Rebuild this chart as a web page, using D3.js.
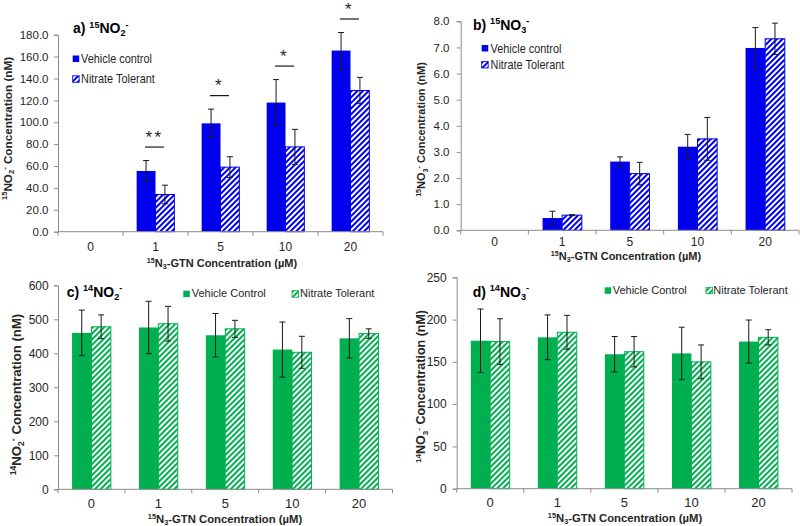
<!DOCTYPE html>
<html>
<head>
<meta charset="utf-8">
<script src="https://cdn.jsdelivr.net/npm/d3@7"></script>
<style>
  body { margin: 0; background: #fff; }
  svg { display: block; font-family: "Liberation Sans", Arial, sans-serif; }
  text { white-space: pre; }
</style>
</head>
<body>
<svg id="chart" width="800" height="526"></svg>
<script>
// DATA ///////////////////////////////////////////////////////////////////////
const categories = ["0", "1", "5", "10", "20"];

// a) 15NO2- (nM)
const no2_15_vehicle     = [0, 55.5, 99, 118, 165.5];
const no2_15_vehicleErr  = [0, 9.5, 13, 21, 16.5];
const no2_15_tolerant    = [0, 34, 59, 77.5, 129];
const no2_15_tolerantErr = [0, 8.5, 9.5, 16, 12];
const no2_15_sig         = ["", "**", "*", "*", "*"];

// b) 15NO3- (nM)
const no3_15_vehicle     = [0, 0.47, 2.63, 3.2, 6.98];
const no3_15_vehicleErr  = [0, 0.26, 0.18, 0.47, 0.78];
const no3_15_tolerant    = [0, 0.58, 2.17, 3.5, 7.33];
const no3_15_tolerantErr = [0, 0.02, 0.43, 0.82, 0.6];

// c) 14NO2- (nM)
const no2_14_vehicle     = [460, 476, 453, 411, 444];
const no2_14_vehicleErr  = [67, 77, 64, 81, 58];
const no2_14_tolerant    = [478, 487, 472, 403, 458];
const no2_14_tolerantErr = [35, 51, 25, 47, 14];

// d) 14NO3- (nM)
const no3_14_vehicle     = [175, 179, 159, 160, 174];
const no3_14_vehicleErr  = [37.5, 26.5, 21, 31, 25.5];
const no3_14_tolerant    = [174, 185, 162, 150, 179];
const no3_14_tolerantErr = [27, 20, 18, 20, 9];

// STYLE //////////////////////////////////////////////////////////////////////
const blue = "#0000ee";
const green = "#00b050";
const axisColor = "#8c8c8c";
const textColor = "#262626";

const svg = d3.select("#chart");
const defs = svg.append("defs");

// diagonal "/" hatch for the nitrate tolerant bars
function hatch(id, col) {
  const p = defs.append("pattern")
    .attr("id", id)
    .attr("patternUnits", "userSpaceOnUse")
    .attr("width", 4).attr("height", 4)
    .attr("patternTransform", "rotate(45)");
  p.append("rect").attr("width", 4).attr("height", 4).attr("fill", "#fff");
  p.append("rect").attr("width", 2).attr("height", 4).attr("fill", col);
}
hatch("hatchBlue", blue);
hatch("hatchGreen", green);

// text with super/subscripts: parts = [[string, "sup"|"sub"|""], ...]
function rich(text, parts, fs) {
  let cur = 0;
  parts.forEach(([s, kind]) => {
    const target = kind === "sup" ? -0.38 * fs : kind === "sub" ? 0.22 * fs : 0;
    text.append("tspan")
      .attr("dy", target - cur)
      .style("font-size", kind ? (fs * 0.65) + "px" : null)
      .text(s);
    cur = target;
  });
  return text;
}

const xTitleParts = [["15", "sup"], ["N", ""], ["3", "sub"], ["-GTN Concentration (µM)", ""]];

// PANELS /////////////////////////////////////////////////////////////////////
// legends of the upper two panels were squeezed sideways in the source (legendSx)
const panels = [
  {
    left: 58, right: 383, y0: 231.7, yTop: 34.7, yMax: 180, step: 20, fmt: ".1f",
    vehicle: no2_15_vehicle, vehicleErr: no2_15_vehicleErr,
    tolerant: no2_15_tolerant, tolerantErr: no2_15_tolerantErr, sig: no2_15_sig,
    col: blue, pat: "hatchBlue",
    title: { x: 73, y: 33, parts: [["a) ", ""], ["15", "sup"], ["NO", ""], ["2", "sub"], ["-", "sup"]] },
    yTickFs: 11.5, xTickFs: 12, xTickY: 250.5, yTickX: 48.5,
    xTitle: { x: 222, y: 267, fs: 11 },
    yLabel: { x: 7.7, y: 128.5, fs: 11.7, parts: [["15", "sup"], ["NO", ""], ["2", "sub"], ["-", "sup"], [" Concentration (nM)", ""]] },
    legendNames: ["Vehicle control", "Nitrate Tolerant"],
    legend: [{ x: 72.7, y: 55.5, tx: 81, ty: 63 }, { x: 72.7, y: 75.8, tx: 81, ty: 83 }],
    legendFs: 13, legendSx: 0.84
  },
  {
    left: 460.7, right: 799, y0: 230.3, yTop: 21.3, yMax: 8, step: 1, fmt: ".1f",
    vehicle: no3_15_vehicle, vehicleErr: no3_15_vehicleErr,
    tolerant: no3_15_tolerant, tolerantErr: no3_15_tolerantErr,
    col: blue, pat: "hatchBlue",
    title: { x: 473, y: 29.5, parts: [["b) ", ""], ["15", "sup"], ["NO", ""], ["3", "sub"], ["-", "sup"]] },
    yTickFs: 11.5, xTickFs: 12, xTickY: 246, yTickX: 449.5,
    xTitle: { x: 626, y: 260, fs: 11 },
    yLabel: { x: 421.5, y: 129.5, fs: 11, parts: [["15", "sup"], ["NO", ""], ["3", "sub"], ["-", "sup"], [" Concentration (nM)", ""]] },
    legendNames: ["Vehicle control", "Nitrate Tolerant"],
    legend: [{ x: 481.7, y: 45, tx: 490.5, ty: 52.5 }, { x: 481.7, y: 61.5, tx: 490.5, ty: 69 }],
    legendFs: 13, legendSx: 0.84
  },
  {
    left: 58, right: 392.5, y0: 489.3, yTop: 285.3, yMax: 600, step: 100, fmt: "d",
    vehicle: no2_14_vehicle, vehicleErr: no2_14_vehicleErr,
    tolerant: no2_14_tolerant, tolerantErr: no2_14_tolerantErr,
    col: green, pat: "hatchGreen",
    title: { x: 66.7, y: 296.7, parts: [["c) ", ""], ["14", "sup"], ["NO", ""], ["2", "sub"], ["-", "sup"]] },
    yTickFs: 12, xTickFs: 13, xTickY: 508, yTickX: 48.7,
    xTitle: { x: 225, y: 523, fs: 11.3 },
    yLabel: { x: 16.7, y: 394.5, fs: 13.2, parts: [["14", "sup"], ["NO", ""], ["2", "sub"], ["-", "sup"], [" Concentration (nM)", ""]] },
    legendNames: ["Vehicle Control", "Nitrate Tolerant"],
    legend: [{ x: 183.3, y: 290.7, tx: 191.7, ty: 297 }, { x: 292, y: 290.7, tx: 300, ty: 297 }],
    legendFs: 11, legendSx: 1
  },
  {
    left: 456.7, right: 792, y0: 488.7, yTop: 277.3, yMax: 250, step: 50, fmt: "d",
    vehicle: no3_14_vehicle, vehicleErr: no3_14_vehicleErr,
    tolerant: no3_14_tolerant, tolerantErr: no3_14_tolerantErr,
    col: green, pat: "hatchGreen",
    title: { x: 472.7, y: 296.7, parts: [["d) ", ""], ["14", "sup"], ["NO", ""], ["3", "sub"], ["-", "sup"]] },
    yTickFs: 12, xTickFs: 13, xTickY: 507, yTickX: 446.7,
    xTitle: { x: 625, y: 522, fs: 11.3 },
    yLabel: { x: 420.8, y: 386.5, fs: 12.5, parts: [["14", "sup"], ["NO", ""], ["3", "sub"], ["-", "sup"], [" Concentration (nM)", ""]] },
    legendNames: ["Vehicle Control", "Nitrate Tolerant"],
    legend: [{ x: 604.7, y: 287.3, tx: 612.7, ty: 293.5 }, { x: 706, y: 287.3, tx: 713.3, ty: 293.5 }],
    legendFs: 11, legendSx: 1
  }
];

panels.forEach(drawPanel);

function drawPanel(p) {
  const g = svg.append("g");

  const x = d3.scaleBand().domain(categories).range([p.left, p.right]);
  const bw = x.bandwidth();
  const xs = d3.scaleBand().domain(["v", "t"]).range([bw * 0.21, bw * 0.79]);
  const y = d3.scaleLinear().domain([0, p.yMax]).range([p.y0, p.yTop]);

  // y axis
  const yTicks = d3.range(0, p.yMax + p.step / 2, p.step);
  const yAxis = g.append("g")
    .attr("transform", `translate(${p.left},0)`)
    .call(d3.axisLeft(y).tickValues(yTicks).tickFormat(d3.format(p.fmt)).tickSize(4).tickPadding(6));
  yAxis.select(".domain").attr("stroke", axisColor);
  yAxis.selectAll(".tick line").attr("stroke", axisColor);
  yAxis.selectAll(".tick text")
    .attr("x", p.yTickX - p.left)
    .attr("fill", textColor)
    .style("font-size", p.yTickFs + "px");

  // bars
  const series = [
    { key: "v", vals: p.vehicle, errs: p.vehicleErr, fill: p.col },
    { key: "t", vals: p.tolerant, errs: p.tolerantErr, fill: `url(#${p.pat})` }
  ];
  series.forEach(s => {
    const rows = categories.map((c, i) => ({ c, v: s.vals[i], e: s.errs[i] })).filter(d => d.v > 0);
    g.selectAll(null).data(rows).enter().append("rect")
      .attr("x", d => x(d.c) + xs(s.key))
      .attr("y", d => y(d.v))
      .attr("width", xs.bandwidth())
      .attr("height", d => y(0) - y(d.v))
      .attr("fill", s.fill)
      .attr("stroke", s.key === "t" ? p.col : "none")
      .attr("stroke-width", 1);

    // error bars
    const eb = g.selectAll(null).data(rows.filter(d => d.e > 0)).enter().append("g")
      .attr("stroke", "#1a1a1a").attr("stroke-width", 1);
    const cx = d => x(d.c) + xs(s.key) + xs.bandwidth() / 2;
    eb.append("line")
      .attr("x1", cx).attr("x2", cx)
      .attr("y1", d => y(d.v + d.e)).attr("y2", d => y(d.v - d.e));
    eb.append("line")
      .attr("x1", d => cx(d) - 3).attr("x2", d => cx(d) + 3)
      .attr("y1", d => y(d.v + d.e)).attr("y2", d => y(d.v + d.e));
    eb.append("line")
      .attr("x1", d => cx(d) - 3).attr("x2", d => cx(d) + 3)
      .attr("y1", d => y(d.v - d.e)).attr("y2", d => y(d.v - d.e));
  });

  // significance markers
  if (p.sig) {
    const rows = categories.map((c, i) => ({
      c, s: p.sig[i], top: Math.max(p.vehicle[i] + p.vehicleErr[i], p.tolerant[i] + p.tolerantErr[i])
    })).filter(d => d.s);
    const cx = d => x(d.c) + bw / 2 - 1;
    g.selectAll(null).data(rows).enter().append("line")
      .attr("x1", d => cx(d) - 9.5).attr("x2", d => cx(d) + 9.5)
      .attr("y1", d => y(d.top) - 13.5).attr("y2", d => y(d.top) - 13.5)
      .attr("stroke", "#1a1a1a").attr("stroke-width", 1.2);
    g.selectAll(null).data(rows).enter().append("text")
      .attr("x", cx)
      .attr("y", d => y(d.top) - 18)
      .attr("text-anchor", "middle")
      .attr("fill", textColor)
      .style("font-size", "17px")
      .style("letter-spacing", "2.5px")
      .text(d => d.s);
  }

  // x axis (drawn over the bars)
  const xAxis = g.append("g").attr("transform", `translate(0,${p.y0})`);
  xAxis.append("line")
    .attr("x1", p.left).attr("x2", p.right)
    .attr("stroke", axisColor);
  xAxis.selectAll(null).data(d3.range(categories.length + 1)).enter().append("line")
    .attr("x1", i => p.left + i * bw).attr("x2", i => p.left + i * bw)
    .attr("y1", 0).attr("y2", 4)
    .attr("stroke", axisColor);
  g.selectAll(null).data(categories).enter().append("text")
    .attr("x", d => x(d) + bw / 2)
    .attr("y", p.xTickY)
    .attr("text-anchor", "middle")
    .attr("fill", textColor)
    .style("font-size", p.xTickFs + "px")
    .text(d => d);

  // axis titles
  rich(g.append("text")
    .attr("x", p.xTitle.x).attr("y", p.xTitle.y)
    .attr("text-anchor", "middle")
    .attr("font-weight", "bold")
    .attr("fill", textColor)
    .style("font-size", p.xTitle.fs + "px"), xTitleParts, p.xTitle.fs);

  rich(g.append("text")
    .attr("transform", `translate(${p.yLabel.x + p.yLabel.fs * 0.36},${p.yLabel.y}) rotate(-90)`)
    .attr("text-anchor", "middle")
    .attr("font-weight", "bold")
    .attr("fill", textColor)
    .style("font-size", p.yLabel.fs + "px"), p.yLabel.parts, p.yLabel.fs);

  // panel title
  rich(g.append("text")
    .attr("x", p.title.x).attr("y", p.title.y)
    .attr("font-weight", "bold")
    .attr("fill", "#000")
    .style("font-size", "14px"), p.title.parts, 14);

  // legend
  p.legend.forEach((l, i) => {
    g.append("rect")
      .attr("x", l.x).attr("y", l.y)
      .attr("width", 6.5).attr("height", 6.5)
      .attr("fill", i === 0 ? p.col : `url(#${p.pat})`)
      .attr("stroke", i === 0 ? "none" : p.col)
      .attr("stroke-width", 0.8);
    g.append("text")
      .attr("transform", `translate(${l.tx},${l.ty}) scale(${p.legendSx},1)`)
      .attr("fill", textColor)
      .style("font-size", p.legendFs + "px")
      .text(p.legendNames[i]);
  });
}
</script>
</body>
</html>
